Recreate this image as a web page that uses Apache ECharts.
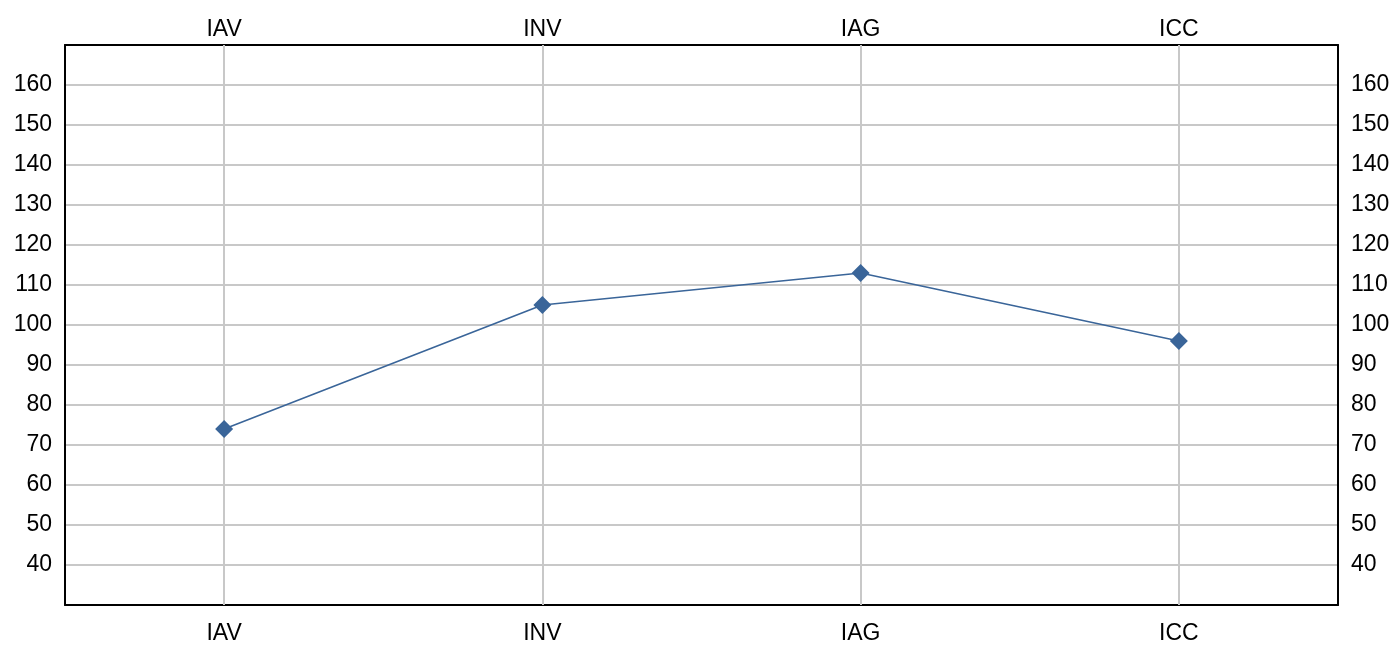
<!DOCTYPE html>
<html><head><meta charset="utf-8">
<script src="https://cdn.jsdelivr.net/npm/echarts@6/dist/echarts.min.js"></script>
<style>html,body{margin:0;padding:0;background:#fff}#c{width:1399px;height:645px}</style>
</head><body><div id="c"></div>
<script>
var categories = ['IAV', 'INV', 'IAG', 'ICC'];
var values = [74, 105, 113, 96];
var yMin = 30, yMax = 170, yStep = 10;

var chart = echarts.init(document.getElementById('c'));
var font = 'Liberation Sans, Arial, sans-serif';
var yLabel = {
  color: '#000', fontSize: 23, fontFamily: font, margin: 13, padding: [4, 0, 0, 0],
  formatter: function (v) { return (v === yMin || v === yMax) ? '' : v; }
};
function xAxisDef(pos, margin) {
  return {
    type: 'category', data: categories, boundaryGap: true, position: pos,
    axisLine: { show: true, lineStyle: { color: '#000', width: 2 } },
    axisTick: { show: false }, splitLine: { show: false },
    axisLabel: { color: '#000', fontSize: 23, fontFamily: font, margin: margin }
  };
}
function yAxisDef(pos, split) {
  return {
    type: 'value', min: yMin, max: yMax, interval: yStep, position: pos,
    axisLine: { show: true, lineStyle: { color: '#000', width: 2 } },
    axisTick: { show: false },
    axisLabel: yLabel,
    splitLine: { show: split, lineStyle: { color: '#c8c8c8', width: 2 } }
  };
}
chart.setOption({
  animation: false,
  grid: { left: 65, right: 61, top: 45, bottom: 40, containLabel: false },
  xAxis: [xAxisDef('bottom', 17), xAxisDef('top', 4)],
  yAxis: [yAxisDef('left', true), yAxisDef('right', false)],
  series: [
    {
      type: 'line', data: [], xAxisIndex: 0, yAxisIndex: 0, z: 1, silent: true,
      markLine: {
        z: 1, silent: true, symbol: 'none', label: { show: false }, animation: false,
        lineStyle: { color: '#c8c8c8', width: 2, type: 'solid' },
        data: categories.map(function (c) { return { xAxis: c }; })
      }
    },
    {
      type: 'line', data: values, xAxisIndex: 0, yAxisIndex: 0, z: 3,
      symbol: 'diamond', symbolSize: 18,
      lineStyle: { color: '#3a6599', width: 1.6 },
      itemStyle: { color: '#3a6599' }
    }
  ]
});
</script></body></html>
